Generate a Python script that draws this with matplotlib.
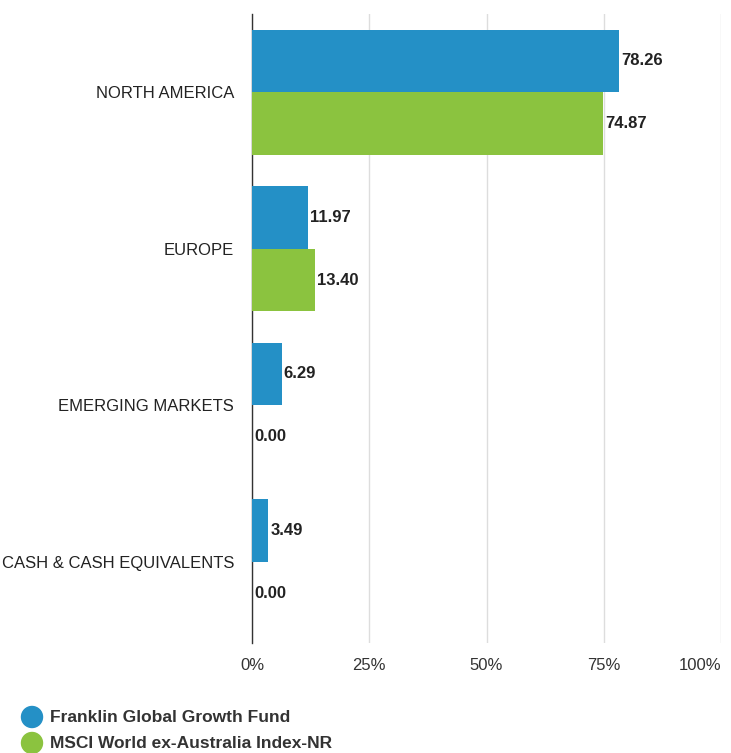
import matplotlib
matplotlib.use("Agg")
import matplotlib.pyplot as plt
import numpy as np

categories = ["NORTH AMERICA", "EUROPE", "EMERGING MARKETS", "CASH & CASH EQUIVALENTS"]
fund_values = [78.26, 11.97, 6.29, 3.49]
index_values = [74.87, 13.40, 0.00, 0.00]
series_names = ["Franklin Global Growth Fund", "MSCI World ex-Australia Index-NR"]
xticks = [0, 25, 50, 75, 100]
xtick_labels = ["0%", "25%", "50%", "75%", "100%"]

blue = "#2490C6"
green = "#8BC33F"
plt.rcParams['font.family'] = ['Liberation Sans', 'DejaVu Sans']

fig = plt.figure(figsize=(7.31, 7.53), dpi=100)
ax = fig.add_axes([252/731, 1-643/753, (721-252)/731, (643-14)/753])

y = np.arange(len(categories))
h = 0.4
ax.barh(y - h/2, fund_values, height=h, color=blue, zorder=3)
ax.barh(y + h/2, index_values, height=h, color=green, zorder=3)
for yi, v in zip(y - h/2, fund_values):
    ax.text(v + 0.4, yi, f"{v:.2f}", va="center", ha="left", fontsize=12, fontweight="bold", color="#222222")
for yi, v in zip(y + h/2, index_values):
    ax.text(v + 0.4, yi, f"{v:.2f}", va="center", ha="left", fontsize=12, fontweight="bold", color="#222222")

ax.set_xlim(0, 100)
ax.set_ylim(3.5 + 3/157, -0.5)
ax.set_xticks(xticks)
ax.set_xticklabels(xtick_labels, fontsize=12, color="#333333")
labs = ax.get_xticklabels()
labs[-1].set_horizontalalignment("right")
labs[-1].set_x(100)
ax.set_yticks(y)
ax.set_yticklabels(categories, fontsize=12, color="#222222")
ax.tick_params(axis="y", length=0, pad=13)
ax.tick_params(axis="x", length=0, pad=11)
ax.grid(axis="x", color="#DDDDDD", linewidth=1, zorder=0)
for s in ["top", "right", "bottom"]:
    ax.spines[s].set_visible(False)
ax.spines["left"].set_color("#333333")
ax.spines["left"].set_linewidth(1)

# legend
for i, (name, col) in enumerate(zip(series_names, [blue, green])):
    yy = 1 - (717 + i*26)/753
    fig.patches.append(matplotlib.patches.Ellipse((32/731, yy), 21/731, 21/753, transform=fig.transFigure, color=col, figure=fig))
    fig.text(50/731, yy, name, fontsize=12.5, fontweight="bold", color="#333333", va="center", ha="left")

fig.savefig("out.png", dpi=100)
